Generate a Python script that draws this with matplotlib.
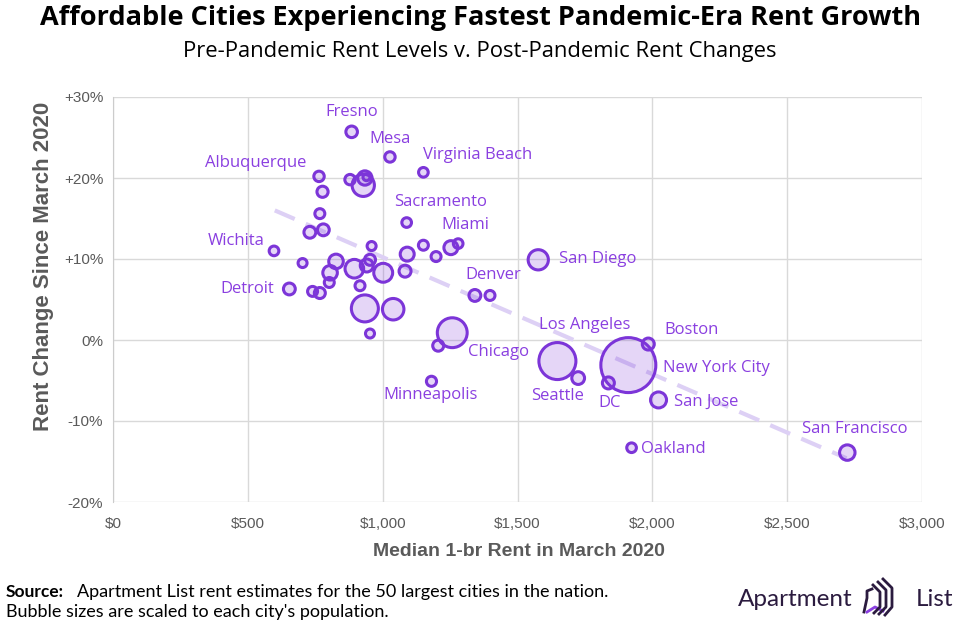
import numpy as np
import matplotlib
matplotlib.use('Agg')
import matplotlib.pyplot as plt
from matplotlib.lines import Line2D

# Datos: renta mediana 1-br (marzo 2020), cambio %, poblacion (millones)
rent = [885, 1027, 1151, 764, 1089, 1280, 597, 654, 1577, 1342,
        1258, 1181, 1648, 1725, 1985, 1911, 1837, 2023, 1923, 2723,
        879, 934, 940, 928, 777, 767, 730, 780, 959, 703,
        827, 805, 802, 895, 953, 941, 1002, 916, 1091, 1083,
        1151, 1198, 1253, 740, 767, 934, 1039, 953, 1206, 1398]
change = [25.7, 22.6, 20.7, 20.2, 14.5, 11.9, 11.0, 6.3, 9.9, 5.5,
          0.9, -5.1, -2.6, -4.7, -0.5, -3.1, -5.3, -7.4, -13.3, -13.9,
          19.8, 20.0, 20.1, 19.1, 18.3, 15.6, 13.3, 13.6, 11.6, 9.5,
          9.7, 8.3, 7.1, 8.8, 9.9, 9.2, 8.3, 6.7, 10.6, 8.5,
          11.7, 10.3, 11.4, 6.0, 5.8, 3.9, 3.8, 0.8, -0.7, 5.5]
pop = [0.53, 0.45, 0.40, 0.45, 0.40, 0.40, 0.40, 0.55, 1.35, 0.55,
       2.70, 0.43, 4.00, 0.62, 0.56, 8.40, 0.56, 0.90, 0.40, 0.85,
       0.45, 0.75, 0.25, 1.60, 0.50, 0.42, 0.55, 0.55, 0.36, 0.36,
       0.77, 0.77, 0.42, 1.17, 0.49, 0.64, 1.20, 0.42, 0.72, 0.56,
       0.42, 0.42, 0.72, 0.42, 0.49, 2.25, 1.50, 0.36, 0.49, 0.42]
labels = ['Fresno', 'Mesa', 'Virginia Beach', 'Albuquerque', 'Sacramento',
          'Miami', 'Wichita', 'Detroit', 'San Diego', 'Denver',
          'Chicago', 'Minneapolis', 'Los Angeles', 'Seattle', 'Boston',
          'New York City', 'DC', 'San Jose', 'Oakland', 'San Francisco']

# linea de tendencia (extremos)
trend_x = [600, 2720]
trend_y = [16.0, -14.6]

x_ticks = [0, 500, 1000, 1500, 2000, 2500, 3000]
y_ticks = [-20, -10, 0, 10, 20, 30]

# desplazamientos de etiquetas (px)
label_offsets = {
    'Fresno': (0, 20), 'Mesa': (0, 18), 'Virginia Beach': (54, 17),
    'Albuquerque': (-63, 13), 'Sacramento': (34, 21), 'Miami': (7, 19),
    'Wichita': (-38, 10), 'Detroit': (-42, 0), 'San Diego': (59, 1),
    'Denver': (18, 20), 'Los Angeles': (27, 36), 'Boston': (43, 14),
    'New York City': (88, -3), 'Chicago': (46, -19), 'Minneapolis': (-1, -14),
    'Seattle': (-21, -18), 'DC': (1, -20), 'San Jose': (48, -2),
    'Oakland': (42, -1), 'San Francisco': (7, 24),
}

purple = '#7c35d8'
label_color = '#8a3fe0'
gray = '#5a5a5a'

fig = plt.figure(figsize=(9.6, 6.29), dpi=100)
ax = fig.add_axes([113/960, 1-502/629, (922-113)/960, (502-97)/629])

# tamaño de burbuja: radio exterior ~ 10 px * sqrt(poblacion)
pop_a = np.array(pop)
r_px = 10 * np.sqrt(pop_a)
d_pt = 2 * (r_px - 1.5) * 72 / 100
sizes = d_pt ** 2
order = np.argsort(-pop_a)

ax.plot(trend_x, trend_y, color='#ddd0f5', lw=3, dashes=(5.2, 2.9),
        solid_capstyle='butt', zorder=2)
ax.scatter(np.array(rent)[order], np.array(change)[order], s=sizes[order],
           facecolor=(0.49, 0.21, 0.85, 0.2), edgecolor=purple,
           linewidths=2.2, zorder=3)

for i, name in enumerate(labels):
    dx, dy = label_offsets[name]
    ax.annotate(name, (rent[i], change[i]), xytext=(dx*0.72, dy*0.72),
                textcoords='offset points', ha='center', va='center',
                fontsize=12, color=label_color, family='Open Sans', zorder=4)

ax.set_xlim(0, 3000)
ax.set_ylim(-20, 30)
ax.set_xticks(x_ticks)
ax.set_yticks(y_ticks)
ax.set_xticklabels(['$0' if v == 0 else f'${v:,}' for v in x_ticks])
ax.set_yticklabels([f'+{v}%' if v > 0 else f'{v}%' for v in y_ticks])
ax.grid(True, color='#d9d9d9', lw=1)
ax.set_axisbelow(True)
for s in ['top', 'right', 'bottom']:
    ax.spines[s].set_visible(False)
ax.spines['left'].set_color('#cccccc')
ax.tick_params(length=0, labelsize=11, labelcolor=gray, pad=7)
for t in ax.get_xticklabels() + ax.get_yticklabels():
    t.set_family('Liberation Sans')
ax.tick_params(axis='x', pad=11)

fig.text(519/960, 1-551/629, 'Median 1-br Rent in March 2020', ha='center', va='center',
         fontsize=14, fontweight='bold', color=gray, family='Liberation Sans')
fig.text(44/960, 1-266/629, 'Rent Change Since March 2020', ha='center', va='center',
         rotation=90, fontsize=16, fontweight='bold', color=gray, family='Liberation Sans')

# titulos
fig.text(0.5, 1-18/629, 'Affordable Cities Experiencing Fastest Pandemic-Era Rent Growth',
         ha='center', va='center', fontsize=19.5, fontweight='bold', family='Open Sans')
fig.text(0.5, 1-52/629, 'Pre-Pandemic Rent Levels v. Post-Pandemic Rent Changes',
         ha='center', va='center', fontsize=15.8, family='Open Sans')

# pie
fig.text(6/960, 1-592/629, 'Source:', ha='left', va='center', fontsize=12.5,
         fontweight='bold', family='Lato')
fig.text(77/960, 1-592/629, 'Apartment List rent estimates for the 50 largest cities in the nation.',
         ha='left', va='center', fontsize=13, family='Lato')
fig.text(6/960, 1-612/629, "Bubble sizes are scaled to each city's population.",
         ha='left', va='center', fontsize=13, family='Lato')

# logo
navy = '#2b1b3f'
fig.text(853/960, 1-599/629, 'Apartment', ha='right', va='center', fontsize=17.5,
         color=navy, family='Lato')
fig.text(916/960, 1-599/629, 'List', ha='left', va='center', fontsize=17.5,
         color=navy, family='Lato')
W, H = 960, 629
def fl(xs, ys, c):
    fig.add_artist(Line2D([x/W for x in xs], [1-y/H for y in ys], color=c,
                          lw=2, transform=fig.transFigure))
fl([864, 867, 867, 872], [612, 598, 591, 589], navy)
fl([867, 875, 883], [612, 607, 611], '#8a3fe0')
fl([873, 880, 880, 874], [585, 592, 607, 613], navy)
fl([878, 886, 886, 879], [582, 590, 607, 614], navy)
fl([883, 892, 892, 885], [579, 588, 607, 615], navy)

fig.savefig('out.png', dpi=100)
